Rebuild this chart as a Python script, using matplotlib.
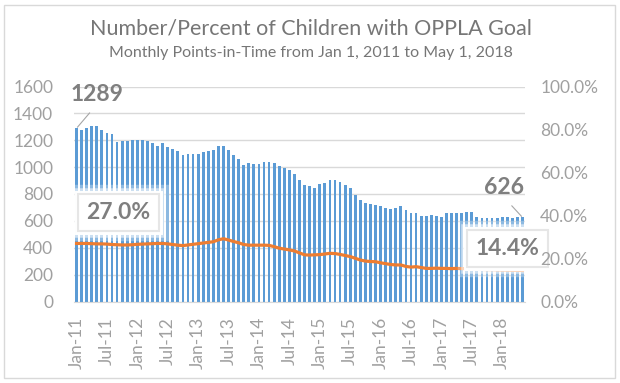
import matplotlib
matplotlib.use("Agg")
import matplotlib.pyplot as plt
from matplotlib.patches import Rectangle
from matplotlib.ticker import FuncFormatter

plt.rcParams['font.family'] = ['Lato', 'DejaVu Sans']

# monthly points-in-time, Jan 2011 .. May 2018 (89 months)
months = ["Jan", "Feb", "Mar", "Apr", "May", "Jun",
          "Jul", "Aug", "Sep", "Oct", "Nov", "Dec"]
labels = [f"{months[i % 12]}-{11 + i // 12}" for i in range(89)]

children = [1289, 1279, 1294, 1304, 1304, 1274, 1254, 1244, 1188, 1193, 1193, 1200,
            1205, 1200, 1195, 1183, 1158, 1180, 1151, 1133, 1121, 1091, 1099, 1099,
            1099, 1111, 1121, 1126, 1156, 1156, 1126, 1091, 1059, 1017, 1030, 1025,
            1025, 1037, 1037, 1030, 1007, 993, 978, 948, 904, 867, 860, 844,
            874, 884, 904, 904, 889, 867, 844, 792, 755, 733, 726, 716,
            711, 696, 689, 696, 711, 681, 659, 659, 637, 637, 644, 637,
            632, 662, 662, 662, 662, 667, 667, 632, 620, 622, 622, 625,
            628, 628, 625, 630, 626]

percent = [27.0, 27.0, 27.0, 26.9, 26.8, 26.8, 26.7, 26.5, 26.4, 26.3, 26.3, 26.4,
           26.6, 26.7, 26.8, 26.9, 27.0, 27.0, 26.8, 26.5, 26.2, 26.0, 26.3, 26.6,
           26.9, 27.2, 27.5, 27.8, 28.7, 29.2, 28.6, 27.9, 27.3, 26.5, 26.2, 26.2,
           26.2, 26.2, 26.1, 25.5, 24.8, 24.4, 24.0, 23.5, 22.6, 21.7, 21.6, 21.7,
           21.8, 22.1, 22.4, 22.3, 21.9, 21.4, 20.9, 20.1, 19.3, 18.8, 18.6, 18.5,
           18.0, 17.6, 17.2, 17.0, 17.0, 16.3, 16.0, 16.2, 15.8, 15.4, 15.4, 15.5,
           15.4, 15.4, 15.3, 15.4, 15.3, 15.3, 15.2, 15.0, 14.9, 14.8, 14.8, 14.7,
           14.6, 14.6, 14.5, 14.5, 14.4]

left_ticks = list(range(0, 1601, 200))
right_ticks = [0, 20, 40, 60, 80, 100]

tick_col = '#A0A0A0'
label_col = '#7F7F7F'
grid_col = '#D9D9D9'

fig = plt.figure(figsize=(6.2, 3.83), dpi=100)
fig.patches.append(Rectangle((4 / 620, 5 / 383), 611 / 620, 373 / 383,
                             transform=fig.transFigure, fill=False,
                             edgecolor=grid_col, linewidth=1))

ax = fig.add_axes([74 / 620, 81.5 / 383, 451 / 620, 215 / 383])
x = list(range(len(children)))
ax.bar(x, children, width=0.55, color='#5B9BD5', zorder=2)
ax.set_xlim(-0.5, len(children) - 0.5)
ax.set_ylim(0, 1600)
ax.set_yticks(left_ticks)
ax.grid(axis='y', color=grid_col, linewidth=1, zorder=0)
ax.set_axisbelow(True)
for s in ['top', 'left', 'right']:
    ax.spines[s].set_visible(False)
ax.spines['bottom'].set_color(grid_col)
ax.set_xticks(x[::6])
ax.set_xticklabels(labels[::6], rotation=90)
ax.tick_params(axis='x', length=0, pad=11, labelsize=12.5, labelcolor=tick_col)
ax.tick_params(axis='y', length=0, pad=15, labelsize=12.5, labelcolor=tick_col)

ax2 = ax.twinx()
ax2.plot(x, percent, color='#ED7D31', linewidth=2.3, zorder=3)
ax2.set_ylim(0, 100)
ax2.set_yticks(right_ticks)
ax2.yaxis.set_major_formatter(FuncFormatter(lambda v, p: f"{v:.1f}%"))
ax2.tick_params(axis='y', length=0, pad=11, labelsize=12.5, labelcolor=tick_col)
ax2.yaxis.set_zorder(10)
for s in ax2.spines.values():
    s.set_visible(False)

# data labels
lead = dict(arrowstyle='-', color='#A6A6A6', linewidth=0.8,
            relpos=(0.5, 0), shrinkA=5, shrinkB=1)
ax.annotate(f"{children[0]}", xy=(0, children[0]), xytext=(20, 34),
            textcoords='offset pixels', ha='center', va='center',
            fontsize=16.5, fontweight='bold', color=label_col, arrowprops=lead)
ax.annotate(f"{children[-1]}", xy=(88, children[-1]), xytext=(-18, 30),
            textcoords='offset pixels', ha='center', va='center',
            fontsize=16.5, fontweight='bold', color=label_col, arrowprops=lead)


def boxed_label(axis, text, xy, offset):
    # soft white glow around the box, then the box itself
    for lw, a in [(14, 0.3), (9, 0.55), (5, 1.0)]:
        glow = dict(boxstyle='square,pad=0.36', facecolor='white',
                    edgecolor='white', linewidth=lw, alpha=a)
        axis.annotate(text, xy=xy, xytext=offset, textcoords='offset pixels',
                      ha='center', va='center', fontsize=16.5, fontweight='bold',
                      color='none', bbox=glow, zorder=5)
    box = dict(boxstyle='square,pad=0.36', facecolor='white',
               edgecolor='#E6E6E6', linewidth=1.5)
    axis.annotate(text, xy=xy, xytext=offset, textcoords='offset pixels',
                  ha='center', va='center', fontsize=16.5, fontweight='bold',
                  color=label_col, bbox=box, zorder=6)


boxed_label(ax2, f"{percent[0]:.1f}%", (0, percent[0]), (42, 31))
boxed_label(ax2, f"{percent[-1]:.1f}%", (88, percent[-1]), (-15, 22))

fig.text(311 / 620, 1 - 28.5 / 383, "Number/Percent of Children with OPPLA Goal",
         ha='center', va='center', fontsize=15.5, color='#767676')
fig.text(311 / 620, 1 - 53 / 383, "Monthly Points-in-Time from Jan 1, 2011 to May 1, 2018",
         ha='center', va='center', fontsize=11.5, color='#767676')

fig.savefig("out.png", dpi=100)
